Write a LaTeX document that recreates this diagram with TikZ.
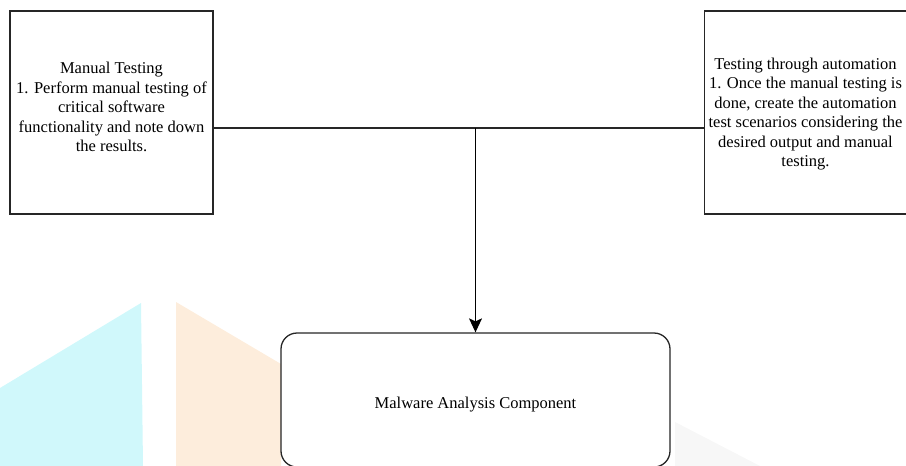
\documentclass[tikz,border=0pt]{standalone}
\usepackage{fontspec}
\setmainfont{Liberation Serif}
\usepackage{tikz}
\usetikzlibrary{arrows.meta}
\definecolor{markcyan}{RGB}{208,248,251}
\definecolor{markorange}{RGB}{253,237,220}

\begin{document}
\begin{tikzpicture}[x=1pt, y=-1pt, >={Stealth[length=14pt,width=13pt,inset=3pt]},
		font=\fontsize{16.5}{19.5}\selectfont,
		textbox/.style={draw=black!85, line width=1.3pt, align=center, inner sep=0pt},
		roundbox/.style={textbox, rounded corners=16pt}]
		\useasboundingbox (0,0) rectangle (906,466);
		\fill[markcyan] (0,388) -- (141,303) -- (143,466) -- (0,466) -- cycle;
		\fill[markorange] (176,302) -- (281,364) -- (281,466) -- (176,466) -- cycle;
		\fill[black!3] (675,422) -- (760,466) -- (675,466) -- cycle;
		\node[textbox, minimum width=203pt, minimum height=203pt, text depth=11pt] (manual) at (111.5,112.5)
			{Manual Testing\\1. Perform manual testing of\\critical software\\functionality and note down\\the results.};
		\node[textbox, minimum width=202pt, minimum height=203pt, text depth=-2pt] (auto) at (805.5,112.5)
			{Testing through automation\\1. Once the manual testing is\\done, create the automation\\test scenarios considering the\\desired output and manual\\testing.};
		\node[roundbox, fill=white, minimum width=389pt, minimum height=134pt] (malware) at (475.5,400)
			{\smash{\raisebox{-8pt}{Malware Analysis Component}}};
		\coordinate (join) at (475.5,128);
		\draw[line width=1.3pt, black!85] (manual.east |- join) -- (auto.west |- join);
		\draw[->, line width=1.3pt] (join) -- (malware.north);
	\end{tikzpicture}
\end{document}
